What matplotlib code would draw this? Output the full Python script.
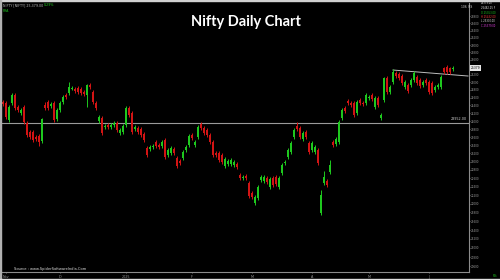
import numpy as np
import matplotlib
matplotlib.use("Agg")
import matplotlib.pyplot as plt
from matplotlib.patches import Rectangle

# ---------------- data ----------------
opens = [24488, 24462, 24028, 24462, 24669, 24359, 24206, 24359, 23952, 23726,
         23726, 23602, 23627, 23502, 24411, 24488, 24385, 24462, 24053, 24282,
         24488, 24669, 24720, 24824, 24824, 24851, 24824, 24746, 24669, 24930,
         24746, 24462, 24003, 24079, 23852, 23902, 23852, 23902, 23952, 23701,
         23726, 23902, 24334, 24206, 23801, 23826, 23801, 23677, 23330, 23306,
         23355, 23478, 23404, 23379, 23527, 23159, 23208, 23306, 23086, 23013,
         23086, 23281, 23404, 23652, 23404, 23602, 23927, 23826, 23776, 23652,
         23478, 23208, 23208, 23159, 22892, 22941, 22941, 22917, 22941, 22677,
         22605, 22653, 22486, 22251, 22018, 22134, 22557, 22533, 22605, 22392,
         22605, 22629, 22392, 22724, 22965, 23110, 23232, 23602, 23877, 23826,
         23552, 23726, 23453, 23281, 23232, 23281, 21787, 22486, 22533, 22748,
         23478, 23428, 23478, 24079, 24334, 24513, 24462, 24462, 24206, 24539,
         24462, 24462, 24591, 24669, 24359, 24591, 24079, 24539, 25114, 24746,
         25008, 25247, 25220, 25167, 24877, 24930, 24930, 25061, 25141, 25061,
         24930, 25061, 25008, 24982, 24798, 24877, 24877, 25379, 25406, 25379,
         25353]
highs = [24539, 24513, 24411, 24720, 24720, 24411, 24334, 24411, 24003, 23776,
         23776, 23652, 23677, 24079, 24488, 24539, 24488, 24513, 24334, 24513,
         24669, 24720, 25008, 24903, 24877, 24903, 24877, 24798, 24956, 24982,
         24798, 24513, 24155, 24130, 23927, 23952, 23952, 24003, 24003, 23826,
         23927, 24385, 24385, 24257, 23902, 23877, 23852, 23726, 23379, 23404,
         23428, 23527, 23453, 23527, 23577, 23330, 23379, 23355, 23135, 23061,
         23281, 23404, 23677, 23701, 23527, 23902, 23978, 23877, 23826, 23701,
         23527, 23257, 23257, 23208, 23110, 23061, 23086, 23037, 22989, 22724,
         22677, 22700, 22533, 22298, 22204, 22439, 22677, 22677, 22653, 22629,
         22653, 22677, 22653, 22965, 23037, 23330, 23502, 23826, 23978, 23877,
         23751, 23776, 23502, 23502, 23404, 23330, 22321, 22772, 22581, 23037,
         23527, 23602, 24028, 24334, 24385, 24565, 24513, 24513, 24539, 24591,
         24513, 24720, 24669, 24720, 24643, 24643, 24206, 25141, 25167, 24930,
         25353, 25300, 25273, 25220, 25061, 24982, 25114, 25300, 25194, 25114,
         25061, 25114, 25061, 25035, 24930, 24982, 25194, 25406, 25459, 25406,
         25432]
lows = [24385, 24053, 23978, 24411, 24282, 24232, 24155, 23927, 23602, 23552,
        23478, 23502, 23379, 23453, 24282, 24282, 24334, 23978, 24003, 24232,
        24436, 24565, 24669, 24798, 24720, 24694, 24669, 24643, 24359, 24824,
        24436, 24282, 23952, 23652, 23801, 23801, 23801, 23852, 23726, 23652,
        23677, 23852, 24104, 23677, 23751, 23677, 23602, 23478, 23110, 23257,
        23306, 23330, 23306, 23330, 23061, 23110, 23159, 23159, 22844, 22917,
        23037, 23232, 23355, 23527, 23355, 23552, 23776, 23652, 23602, 23428,
        23110, 23110, 22989, 22941, 22844, 22892, 22892, 22868, 22820, 22557,
        22557, 22557, 22134, 22110, 21972, 22087, 22510, 22486, 22463, 22345,
        22392, 22415, 22345, 22677, 22917, 23061, 23184, 23552, 23751, 23552,
        23502, 23552, 23184, 23232, 23184, 22917, 21741, 22439, 22392, 22700,
        23355, 23379, 23428, 24028, 24206, 24411, 24359, 24104, 24155, 24411,
        24385, 24411, 24539, 24513, 24308, 24359, 24028, 24488, 24694, 24694,
        24956, 25114, 25061, 24930, 24824, 24720, 24877, 25008, 24930, 24851,
        24877, 24930, 24694, 24669, 24746, 24824, 24824, 25220, 25220, 25220,
        25300]
closes = [24436, 24104, 24359, 24669, 24334, 24282, 24282, 23978, 23652, 23602,
          23527, 23552, 23478, 24053, 24334, 24334, 24436, 24028, 24282, 24462,
          24617, 24617, 24877, 24851, 24772, 24746, 24720, 24694, 24930, 24877,
          24488, 24334, 24104, 23701, 23877, 23852, 23902, 23952, 23776, 23776,
          23877, 24334, 24155, 23726, 23852, 23726, 23652, 23527, 23159, 23355,
          23379, 23379, 23355, 23478, 23110, 23281, 23330, 23208, 22892, 22965,
          23232, 23355, 23627, 23577, 23478, 23852, 23826, 23701, 23652, 23478,
          23159, 23159, 23037, 22989, 23061, 23013, 23037, 22989, 22868, 22605,
          22629, 22605, 22181, 22157, 22157, 22392, 22629, 22629, 22510, 22581,
          22439, 22463, 22605, 22917, 22989, 23281, 23453, 23776, 23801, 23602,
          23701, 23602, 23232, 23453, 23355, 22965, 22204, 22629, 22439, 22917,
          23404, 23552, 23978, 24282, 24257, 24462, 24411, 24155, 24488, 24462,
          24436, 24669, 24617, 24565, 24591, 24411, 24155, 25114, 24746, 24877,
          25273, 25167, 25114, 24982, 25008, 24772, 25061, 25247, 24982, 24903,
          25008, 24982, 24746, 24720, 24877, 24930, 25141, 25273, 25273, 25273,
          25379]

tick_pos = [1, 19, 41, 63, 83, 103, 122, 142]
tick_labels = ["Nov", "D", "2025", "F", "M", "A", "M", "J"]
y_ticks = list(range(20600, 26801, 200))
hline_level = 23952
trend_idx = [130, 155]
trend_val = [25326, 25167]

# ---------------- figure ----------------
W, H = 500, 280
fig = plt.figure(figsize=(W / 100, H / 100), dpi=100, facecolor="black")

def fx(px):
    return px / W

def fy(py):
    return 1 - py / H

ax_l, ax_r, ax_t, ax_b = 2, 469, 3, 272
ax = fig.add_axes([fx(ax_l), fy(ax_b), fx(ax_r - ax_l), fy(ax_t) - fy(ax_b)])
ax.set_facecolor("black")

n = len(closes)
x = np.arange(n)
o = np.array(opens, float)
c = np.array(closes, float)
hi = np.array(highs, float)
lo = np.array(lows, float)
up = c >= o
GREEN = "#1ec81e"
RED = "#d21414"
cols = np.where(up, GREEN, RED)

ax.set_yscale("log")
ax.vlines(x, lo, hi, colors=cols, linewidth=0.7, zorder=2)
bottom = np.minimum(o, c)
height = np.maximum(np.abs(c - o), bottom * 0.0009)
ax.bar(x, height, bottom=bottom, width=0.72, color=cols, linewidth=0, zorder=3)

# scale so pixel mapping matches reference
A = 10.2133
ax.set_ylim(np.exp(A - ax_b / 950), np.exp(A - ax_t / 950))
ax.set_xlim(-1 / 3, (ax_r - 3) / 3)

# horizontal support line & trend line
ax.axhline(hline_level, color="#9a9a9a", linewidth=0.8, zorder=1)
ax.text(0.995, hline_level * 1.002, f"{hline_level:.2f}", transform=ax.get_yaxis_transform(),
        ha="right", va="bottom", fontsize=2.4, color="#cfcfcf")
ax.plot(trend_idx, trend_val, color="#bdbdbd", linewidth=0.7, zorder=1)

# spines / axes
for s in ["top", "left"]:
    ax.spines[s].set_visible(False)
ax.spines["right"].set_color("#8c8c8c")
ax.spines["bottom"].set_color("#8c8c8c")
ax.spines["right"].set_linewidth(0.8)
ax.spines["bottom"].set_linewidth(0.8)

ax.yaxis.tick_right()
ax.yaxis.set_minor_locator(matplotlib.ticker.NullLocator())
ax.yaxis.set_minor_formatter(matplotlib.ticker.NullFormatter())
ax.set_yticks(y_ticks)
ax.set_yticklabels([str(v) for v in y_ticks])
ax.tick_params(axis="y", colors="#9a9a9a", labelsize=2.0, length=1.0, width=0.5, pad=0.6)
ax.set_xticks(tick_pos)
ax.set_xticklabels(tick_labels)
ax.tick_params(axis="x", colors="#9a9a9a", labelsize=2.4, length=1.0, width=0.5, pad=1)

# current price box
last = closes[-1]
ax.text(1.004, last, f"{last}", transform=ax.get_yaxis_transform(), ha="left", va="center",
        fontsize=2.2, color="black", zorder=5,
        bbox=dict(boxstyle="square,pad=0.2", fc="#e6e6e6", ec="none"))

# title and annotations
fig.text(fx(246), fy(22), "Nifty Daily Chart", ha="center", va="center", color="white",
         fontsize=10.5, fontweight="bold", family="Lato")
fig.text(fx(3), fy(5), "NIFTY [NIFTY] 25,379.00", ha="left", va="center", color="#bdbdbd", fontsize=2.3)
fig.text(fx(44), fy(5), "0.29%", ha="left", va="center", color=GREEN, fontsize=2.3)
fig.text(fx(3), fy(11), "PRA", ha="left", va="center", color=GREEN, fontsize=2.3)
fig.text(fx(14), fy(271), "Source : www.SpiderSoftwareIndia.Com", ha="left", va="bottom",
         color="#e0e0e0", fontsize=2.6)
fig.text(fx(461), fy(7), "106  RS", ha="left", va="center", color="#dddddd", fontsize=2.1)
info = [("25379.00", "#dddddd"), ("26482.25 F", "#dddddd"), ("O 25353.00", GREEN),
        ("H 25432.00", "#ff3c3c"), ("L 25300.00", "#dddddd"), ("C 25379.00", "#e040e0")]
for k, (t, col) in enumerate(info):
    fig.text(fx(481), fy(3.5 + 4.5 * k), t, ha="left", va="center", color=col, fontsize=1.8)
fig.text(fx(493), fy(276), "R%", ha="left", va="center", color=GREEN, fontsize=2.2)

# light frame edges
fig.patches.append(Rectangle((0, fy(1.2)), 1, 1.2 / H, transform=fig.transFigure,
                             color="#d0d0d0", zorder=10))
fig.patches.append(Rectangle((0, 0), 1.2 / W, 1, transform=fig.transFigure,
                             color="#b0b0b0", zorder=10))
fig.patches.append(Rectangle((0, 0), 1, 1.2 / H, transform=fig.transFigure,
                             color="#e0e0e0", zorder=10))

fig.savefig("out.png", dpi=100, facecolor="black")
